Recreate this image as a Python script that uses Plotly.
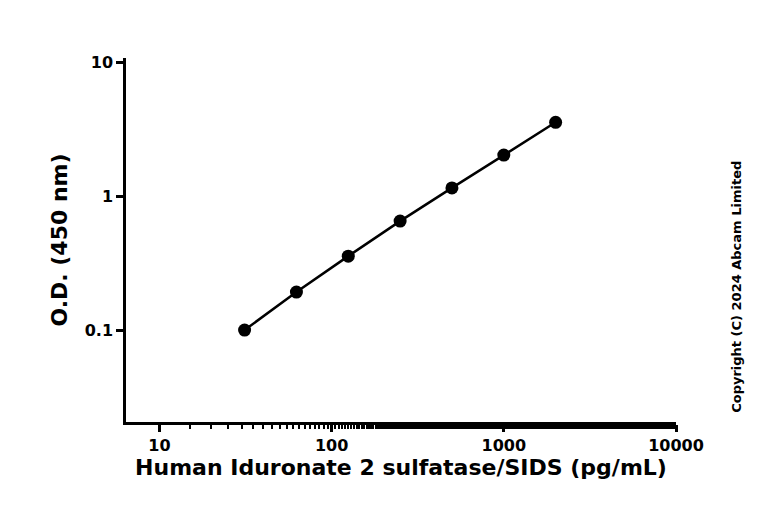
import numpy as np
import plotly.graph_objects as go

conc = [31.25, 62.5, 125, 250, 500, 1000, 2000]
od = [0.10, 0.192, 0.356, 0.65, 1.15, 2.02, 3.55]
x_ticks = [10, 100, 1000, 10000]
x_labels = ["10", "100", "1000", "10000"]
y_ticks = [0.1, 1, 10]
y_labels = ["0.1", "1", "10"]

FONT = "DejaVu Sans"

fig = go.Figure()
fig.add_trace(
    go.Scatter(
        x=conc,
        y=od,
        mode="lines+markers",
        line={"color": "black", "width": 2.5},
        marker={"color": "black", "size": 13},
        showlegend=False,
    )
)

axis_common = dict(
    type="log",
    showgrid=False,
    zeroline=False,
    showline=True,
    linecolor="black",
    linewidth=2.5,
    ticks="outside",
    ticklen=7,
    tickwidth=2.5,
    tickcolor="black",
    tickfont={"family": FONT, "size": 16, "color": "black", "weight": "bold"},
)

fig.update_xaxes(
    **axis_common,
    range=[np.log10(6.4), 4],
    tickvals=x_ticks,
    ticktext=x_labels,
    minor={"ticks": "outside", "ticklen": 4, "tickwidth": 1.5, "tickcolor": "black"},
    title={"text": "<b>Human Iduronate 2 sulfatase/SIDS (pg/mL)</b>",
           "font": {"family": FONT, "size": 22, "color": "black"}, "standoff": 6},
)
fig.update_yaxes(
    **axis_common,
    range=[np.log10(0.0206), 1.03],
    tickvals=y_ticks,
    ticktext=y_labels,
    title={"text": "<b>O.D. (450 nm)</b>",
           "font": {"family": FONT, "size": 22, "color": "black"}, "standoff": 12},
)

fig.add_annotation(
    text="<b>Copyright (C) 2024 Abcam Limited</b>",
    xref="paper", yref="paper", x=1.11, y=0.37,
    xanchor="center", yanchor="middle",
    textangle=-90, showarrow=False,
    font={"family": FONT, "size": 13, "color": "black"},
)

fig.update_layout(
    width=768,
    height=527,
    margin={"l": 118, "r": 100, "t": 50, "b": 113},
    plot_bgcolor="white",
    paper_bgcolor="white",
)
fig.write_html("out.html")
